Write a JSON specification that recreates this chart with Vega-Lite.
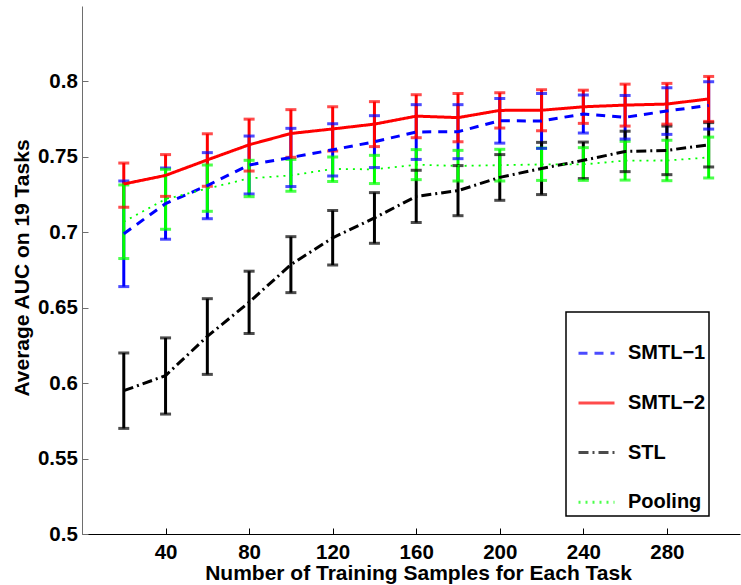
{
  "$schema": "https://vega.github.io/schema/vega-lite/v6.json",
  "width": 658,
  "height": 528,
  "autosize": {"type": "none"},
  "padding": {"left": 82, "top": 6, "right": 1, "bottom": 51},
  "background": "white",
  "config": {
    "font": "Liberation Sans",
    "view": {"stroke": null},
    "axis": {
      "grid": false,
      "labelFont": "Liberation Sans",
      "labelFontWeight": "bold",
      "labelFontSize": 20.5,
      "labelColor": "black",
      "titleFont": "Liberation Sans",
      "titleFontWeight": "bold",
      "titleFontSize": 21,
      "titleColor": "black",
      "tickSize": -6,
      "tickWidth": 1,
      "domainWidth": 1,
      "tickColor": "black",
      "domainColor": "black"
    },
    "legend": {
      "orient": "none",
      "legendX": 484,
      "legendY": 306,
      "titleFontSize": 10,
      "titlePadding": 8.7,
      "symbolType": "stroke",
      "symbolSize": 1296,
      "symbolStrokeWidth": 3,
      "symbolOffset": 8,
      "labelOffset": 12,
      "labelFont": "Liberation Sans",
      "labelFontSize": 20,
      "labelFontWeight": "bold",
      "labelColor": "black",
      "rowPadding": 19.7,
      "padding": 3,
      "fillColor": "white",
      "strokeColor": "black",
      "strokeWidth": 1.5
    }
  },
  "data": {
    "values": [
      {"n": 20, "series": "SMTL−1", "mean": 0.699, "lo": 0.664, "hi": 0.734},
      {"n": 40, "series": "SMTL−1", "mean": 0.719, "lo": 0.6954, "hi": 0.7426},
      {"n": 60, "series": "SMTL−1", "mean": 0.731, "lo": 0.709, "hi": 0.7528},
      {"n": 80, "series": "SMTL−1", "mean": 0.7446, "lo": 0.7254, "hi": 0.7638},
      {"n": 100, "series": "SMTL−1", "mean": 0.7496, "lo": 0.7303, "hi": 0.7689},
      {"n": 120, "series": "SMTL−1", "mean": 0.7547, "lo": 0.7373, "hi": 0.772},
      {"n": 140, "series": "SMTL−1", "mean": 0.76, "lo": 0.7429, "hi": 0.7773},
      {"n": 160, "series": "SMTL−1", "mean": 0.7665, "lo": 0.7483, "hi": 0.7846},
      {"n": 180, "series": "SMTL−1", "mean": 0.7667, "lo": 0.7488, "hi": 0.7846},
      {"n": 200, "series": "SMTL−1", "mean": 0.7739, "lo": 0.7591, "hi": 0.7887},
      {"n": 220, "series": "SMTL−1", "mean": 0.7738, "lo": 0.7556, "hi": 0.792},
      {"n": 240, "series": "SMTL−1", "mean": 0.7784, "lo": 0.7658, "hi": 0.791},
      {"n": 260, "series": "SMTL−1", "mean": 0.7762, "lo": 0.7618, "hi": 0.7907},
      {"n": 280, "series": "SMTL−1", "mean": 0.7804, "lo": 0.7649, "hi": 0.7958},
      {"n": 300, "series": "SMTL−1", "mean": 0.7841, "lo": 0.7684, "hi": 0.7998},
      {"n": 20, "series": "SMTL−2", "mean": 0.732, "lo": 0.7166, "hi": 0.7459},
      {"n": 40, "series": "SMTL−2", "mean": 0.7377, "lo": 0.7238, "hi": 0.7515},
      {"n": 60, "series": "SMTL−2", "mean": 0.748, "lo": 0.7305, "hi": 0.7653},
      {"n": 80, "series": "SMTL−2", "mean": 0.758, "lo": 0.7406, "hi": 0.775},
      {"n": 100, "series": "SMTL−2", "mean": 0.7655, "lo": 0.7497, "hi": 0.7813},
      {"n": 120, "series": "SMTL−2", "mean": 0.7685, "lo": 0.7538, "hi": 0.7832},
      {"n": 140, "series": "SMTL−2", "mean": 0.7717, "lo": 0.7568, "hi": 0.7866},
      {"n": 160, "series": "SMTL−2", "mean": 0.777, "lo": 0.7627, "hi": 0.7912},
      {"n": 180, "series": "SMTL−2", "mean": 0.776, "lo": 0.76, "hi": 0.792},
      {"n": 200, "series": "SMTL−2", "mean": 0.7808, "lo": 0.7691, "hi": 0.7925},
      {"n": 220, "series": "SMTL−2", "mean": 0.7809, "lo": 0.7673, "hi": 0.7945},
      {"n": 240, "series": "SMTL−2", "mean": 0.7832, "lo": 0.7722, "hi": 0.7942},
      {"n": 260, "series": "SMTL−2", "mean": 0.7843, "lo": 0.7704, "hi": 0.7982},
      {"n": 280, "series": "SMTL−2", "mean": 0.785, "lo": 0.7717, "hi": 0.7987},
      {"n": 300, "series": "SMTL−2", "mean": 0.7884, "lo": 0.7735, "hi": 0.8033},
      {"n": 20, "series": "STL", "mean": 0.595, "lo": 0.57, "hi": 0.62},
      {"n": 40, "series": "STL", "mean": 0.605, "lo": 0.5795, "hi": 0.63},
      {"n": 60, "series": "STL", "mean": 0.631, "lo": 0.6058, "hi": 0.656},
      {"n": 80, "series": "STL", "mean": 0.6536, "lo": 0.6329, "hi": 0.6742},
      {"n": 100, "series": "STL", "mean": 0.6786, "lo": 0.66, "hi": 0.6971},
      {"n": 120, "series": "STL", "mean": 0.6963, "lo": 0.6783, "hi": 0.7144},
      {"n": 140, "series": "STL", "mean": 0.7095, "lo": 0.6927, "hi": 0.7263},
      {"n": 160, "series": "STL", "mean": 0.7238, "lo": 0.7065, "hi": 0.7411},
      {"n": 180, "series": "STL", "mean": 0.7276, "lo": 0.711, "hi": 0.7442},
      {"n": 200, "series": "STL", "mean": 0.7364, "lo": 0.7212, "hi": 0.7515},
      {"n": 220, "series": "STL", "mean": 0.7423, "lo": 0.725, "hi": 0.7596},
      {"n": 240, "series": "STL", "mean": 0.7477, "lo": 0.7356, "hi": 0.7598},
      {"n": 260, "series": "STL", "mean": 0.7536, "lo": 0.7402, "hi": 0.767},
      {"n": 280, "series": "STL", "mean": 0.7543, "lo": 0.7382, "hi": 0.7704},
      {"n": 300, "series": "STL", "mean": 0.758, "lo": 0.7433, "hi": 0.7727},
      {"n": 20, "series": "Pooling", "mean": 0.707, "lo": 0.6826, "hi": 0.7314},
      {"n": 40, "series": "Pooling", "mean": 0.722, "lo": 0.702, "hi": 0.7417},
      {"n": 60, "series": "Pooling", "mean": 0.729, "lo": 0.7139, "hi": 0.7446},
      {"n": 80, "series": "Pooling", "mean": 0.7357, "lo": 0.7236, "hi": 0.7477},
      {"n": 100, "series": "Pooling", "mean": 0.7377, "lo": 0.7272, "hi": 0.7483},
      {"n": 120, "series": "Pooling", "mean": 0.742, "lo": 0.7336, "hi": 0.7499},
      {"n": 140, "series": "Pooling", "mean": 0.7417, "lo": 0.7323, "hi": 0.751},
      {"n": 160, "series": "Pooling", "mean": 0.7448, "lo": 0.7349, "hi": 0.7548},
      {"n": 180, "series": "Pooling", "mean": 0.744, "lo": 0.734, "hi": 0.7543},
      {"n": 200, "series": "Pooling", "mean": 0.7445, "lo": 0.734, "hi": 0.755},
      {"n": 220, "series": "Pooling", "mean": 0.745, "lo": 0.7344, "hi": 0.7558},
      {"n": 240, "series": "Pooling", "mean": 0.745, "lo": 0.7344, "hi": 0.7561},
      {"n": 260, "series": "Pooling", "mean": 0.7475, "lo": 0.7346, "hi": 0.7603},
      {"n": 280, "series": "Pooling", "mean": 0.7476, "lo": 0.7342, "hi": 0.761},
      {"n": 300, "series": "Pooling", "mean": 0.7496, "lo": 0.736, "hi": 0.7631}
    ]
  },
  "encoding": {
    "x": {
      "field": "n",
      "type": "quantitative",
      "scale": {"domain": [0, 315], "nice": false, "zero": false},
      "axis": {
        "title": "Number of Training Samples for Each Task",
        "values": [40, 80, 120, 160, 200, 240, 280],
        "format": "d",
        "labelPadding": 14,
        "titleX": 336,
        "titleY": 45,
        "titleBaseline": "alphabetic",
        "titleAnchor": "middle",
        "titleAlign": "center"
      }
    }
  },
  "layer": [
    {
      "mark": {"type": "rule", "strokeWidth": 3},
      "encoding": {
        "y": {
          "field": "lo",
          "type": "quantitative",
          "scale": {"domain": [0.5, 0.85], "nice": false, "zero": false},
          "axis": {
            "title": "Average AUC on 19 Tasks",
            "values": [0.5, 0.55, 0.6, 0.65, 0.7, 0.75, 0.8],
            "format": ".2~f",
            "labelPadding": 10.7,
            "domainColor": "#6e6e6e",
            "tickColor": "#6e6e6e",
            "titleX": -54,
            "titleY": 261.5,
            "titleAngle": -90,
            "titleBaseline": "alphabetic",
            "titleAlign": "center"
          }
        },
        "y2": {"field": "hi"},
        "color": {
          "field": "series",
          "type": "nominal",
          "scale": {
            "domain": ["SMTL−1", "SMTL−2", "STL", "Pooling"],
            "range": ["#0000ff", "#ff0000", "#000000", "#00ff00"]
          },
          "legend": {"title": "\u00a0"}
        }
      }
    },
    {
      "mark": {"type": "tick", "orient": "horizontal", "size": 11, "thickness": 3},
      "encoding": {
        "y": {"field": "hi", "type": "quantitative"},
        "color": {"field": "series", "type": "nominal"}
      }
    },
    {
      "mark": {"type": "tick", "orient": "horizontal", "size": 11, "thickness": 3},
      "encoding": {
        "y": {"field": "lo", "type": "quantitative"},
        "color": {"field": "series", "type": "nominal"}
      }
    },
    {
      "transform": [{"filter": "datum.series !== 'Pooling'"}],
      "mark": {"type": "line", "strokeWidth": 3},
      "encoding": {
        "y": {"field": "mean", "type": "quantitative"},
        "color": {"field": "series", "type": "nominal"},
        "strokeDash": {
          "field": "series",
          "type": "nominal",
          "scale": {
            "domain": ["SMTL−1", "SMTL−2", "STL", "Pooling"],
            "range": [[9, 7], [1, 0], [10, 4, 2, 4], [2, 5]]
          },
          "legend": {"title": "\u00a0"}
        }
      }
    },
    {
      "transform": [{"filter": "datum.series === 'Pooling'"}],
      "mark": {"type": "line", "strokeWidth": 1.8},
      "encoding": {
        "y": {"field": "mean", "type": "quantitative"},
        "color": {"field": "series", "type": "nominal"},
        "strokeDash": {"field": "series", "type": "nominal"}
      }
    }
  ]
}
